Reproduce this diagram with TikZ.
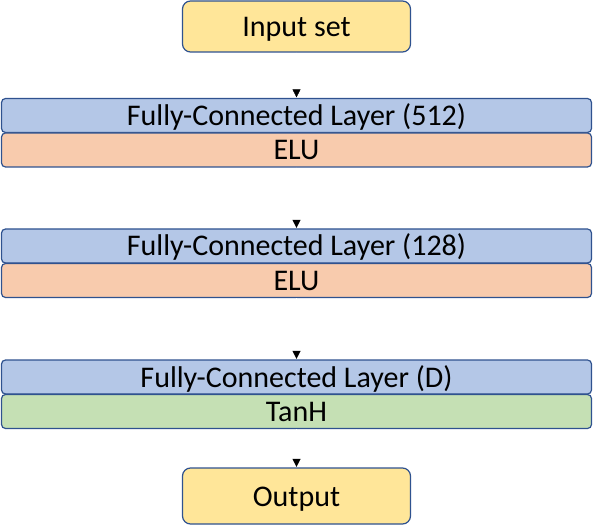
\documentclass[tikz,border=0pt]{standalone}
\usepackage{fontspec}
\setmainfont{Carlito}
\usetikzlibrary{arrows.meta}
\definecolor{bordc}{HTML}{2F528F}
\definecolor{fcblue}{HTML}{B4C7E7}
\definecolor{eluor}{HTML}{F8CBAD}
\definecolor{tanhgr}{HTML}{C5E0B4}
\definecolor{ioyel}{HTML}{FFE699}
\tikzset{
  iobox/.style={draw=bordc, line width=1.2pt, fill=ioyel, rounded corners=8pt, minimum width=228pt, inner sep=0pt, text height=20pt, text depth=0pt, font=\fontsize{30}{34}\selectfont},
  layerbox/.style={draw=bordc, line width=1.2pt, rounded corners=4pt, minimum width=590pt, minimum height=34pt, inner sep=0pt, text height=20pt, text depth=0pt, font=\fontsize{30}{34}\selectfont},
  fcbox/.style={layerbox, fill=fcblue},
  elubox/.style={layerbox, fill=eluor},
  tanhbox/.style={layerbox, fill=tanhgr},
  conn/.style={draw=white, -{Triangle[black, length=8pt, width=8pt]}, shorten >=0.5pt}
}
\begin{document}
\begin{tikzpicture}[x=1pt,y=-1pt]
\useasboundingbox (0,0) rectangle (594,526);
\node[iobox, minimum height=51pt] (in) at (296.5,26.5) {Input set};
\node[fcbox] (fc1) at (296.5,115.5) {Fully-Connected Layer (512)};
\node[elubox] (elu1) at (296.5,150) {ELU};
\node[fcbox] (fc2) at (296.5,246) {Fully-Connected Layer (128)};
\node[elubox] (elu2) at (296.5,280.5) {ELU};
\node[fcbox] (fc3) at (296.5,377) {Fully-Connected Layer (D)};
\node[tanhbox] (th) at (296.5,411.5) {TanH};
\node[iobox, minimum height=56pt] (out) at (296.5,496) {Output};
\draw[conn] (in.south) -- (fc1.north);
\draw[conn] (elu1.south) -- (fc2.north);
\draw[conn] (elu2.south) -- (fc3.north);
\draw[conn] (th.south) -- (out.north);
\end{tikzpicture}
\end{document}
